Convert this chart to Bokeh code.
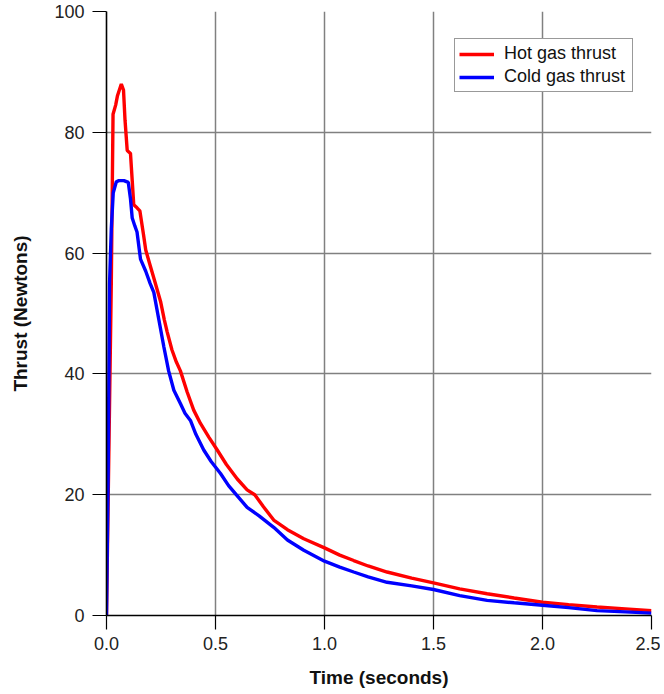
from bokeh.plotting import figure
from bokeh.models import Range1d, FixedTicker, Legend, LegendItem
from bokeh.embed import file_html
from bokeh.resources import INLINE

# Data
hot_t = [0.0, 0.012, 0.022, 0.030, 0.042, 0.050, 0.068, 0.078, 0.085, 0.095, 0.110, 0.118,
         0.125, 0.140, 0.153, 0.170, 0.180, 0.200, 0.220, 0.248, 0.265, 0.278, 0.300, 0.320,
         0.339, 0.370, 0.400, 0.431, 0.470, 0.508, 0.550, 0.600, 0.645, 0.680, 0.720, 0.767,
         0.830, 0.905, 1.000, 1.070, 1.134, 1.200, 1.287, 1.400, 1.500, 1.620, 1.746, 1.870,
         2.000, 2.120, 2.250, 2.380, 2.500]
hot_thrust = [0.0, 30.0, 55.0, 83.0, 84.5, 86.0, 88.0, 87.0, 82.0, 77.0, 76.5, 72.0,
              68.0, 67.5, 67.0, 63.0, 60.5, 58.0, 55.5, 52.0, 49.0, 47.0, 44.0, 42.0,
              40.5, 37.0, 34.0, 31.8, 29.5, 27.4, 25.0, 22.6, 20.8, 20.0, 18.0, 15.8,
              14.2, 12.7, 11.2, 10.0, 9.1, 8.2, 7.2, 6.2, 5.4, 4.4, 3.6, 2.9,
              2.2, 1.8, 1.4, 1.1, 0.8]

cold_t = [0.0, 0.008, 0.014, 0.022, 0.031, 0.045, 0.057, 0.080, 0.100, 0.110, 0.118, 0.130,
          0.140, 0.156, 0.180, 0.200, 0.217, 0.240, 0.263, 0.285, 0.309, 0.340, 0.360, 0.385,
          0.410, 0.446, 0.480, 0.523, 0.560, 0.595, 0.645, 0.700, 0.767, 0.830, 0.905, 1.000,
          1.070, 1.134, 1.200, 1.287, 1.400, 1.500, 1.620, 1.746, 1.870, 2.000, 2.120, 2.250,
          2.380, 2.500]
cold_thrust = [0.0, 25.0, 55.0, 64.0, 70.0, 71.8, 72.0, 72.0, 71.7, 69.0, 65.8, 64.5,
               63.5, 59.0, 57.0, 55.0, 53.5, 49.0, 44.5, 40.5, 37.3, 35.0, 33.5, 32.3,
               30.0, 27.4, 25.5, 23.5, 21.5, 20.0, 17.9, 16.5, 14.6, 12.5, 10.8, 9.0,
               8.0, 7.2, 6.4, 5.5, 4.9, 4.3, 3.3, 2.5, 2.1, 1.7, 1.3, 0.8,
               0.6, 0.4]

x_ticks = [0.0, 0.5, 1.0, 1.5, 2.0, 2.5]
y_ticks = [0, 20, 40, 60, 80, 100]
series_labels = ["Hot gas thrust", "Cold gas thrust"]

FONT = "Liberation Sans"

p = figure(width=660, height=690, output_backend="svg", toolbar_location=None,
           x_range=Range1d(0, 2.5), y_range=Range1d(0, 100),
           min_border_left=106, min_border_right=9, min_border_top=11, min_border_bottom=75)
p.outline_line_color = None
p.background_fill_color = "white"
p.border_fill_color = "white"

hot = p.line(hot_t, hot_thrust, line_color="#ff0000", line_width=3.4)
cold = p.line(cold_t, cold_thrust, line_color="#0000ff", line_width=3.4)

for ax in (p.xaxis[0], p.yaxis[0]):
    ax.axis_line_color = "black"
    ax.axis_line_width = 1.6
    ax.major_tick_line_color = "black"
    ax.major_tick_line_width = 1.2
    ax.major_tick_in = 0
    ax.major_tick_out = 14
    ax.minor_tick_line_color = None
    ax.major_label_text_font = FONT
    ax.major_label_text_font_size = "18px"
    ax.major_label_text_color = "#222222"
    ax.axis_label_text_font = FONT
    ax.axis_label_text_font_size = "19px"
    ax.axis_label_text_font_style = "bold"
    ax.axis_label_text_color = "#111111"

p.xaxis[0].ticker = FixedTicker(ticks=x_ticks)
p.yaxis[0].ticker = FixedTicker(ticks=y_ticks)
p.xaxis[0].major_label_overrides = {t: f"{t:.1f}" for t in x_ticks}
p.xaxis.axis_label = "Time (seconds)"
p.yaxis.axis_label = "Thrust (Newtons)"
p.xaxis[0].major_label_standoff = 7
p.yaxis[0].major_label_standoff = 8
p.xaxis[0].axis_label_standoff = 14
p.yaxis[0].axis_label_standoff = 20

for g in (p.xgrid[0], p.ygrid[0]):
    g.grid_line_color = "#808080"
    g.grid_line_width = 1.5

legend = Legend(items=[LegendItem(label=series_labels[0], renderers=[hot]),
                       LegendItem(label=series_labels[1], renderers=[cold])],
                location=(348, 523))
legend.label_text_font = FONT
legend.label_text_font_size = "18px"
legend.label_text_color = "#111111"
legend.glyph_width = 35
legend.glyph_height = 20
legend.label_standoff = 10
legend.label_height = 21
legend.label_width = 124
legend.spacing = 2
legend.padding = 4
legend.margin = 0
legend.border_line_color = "#333333"
legend.border_line_width = 1
legend.background_fill_color = "white"
legend.background_fill_alpha = 1.0
p.add_layout(legend, "center")

open("out.html", "w").write(file_html(p, INLINE))
